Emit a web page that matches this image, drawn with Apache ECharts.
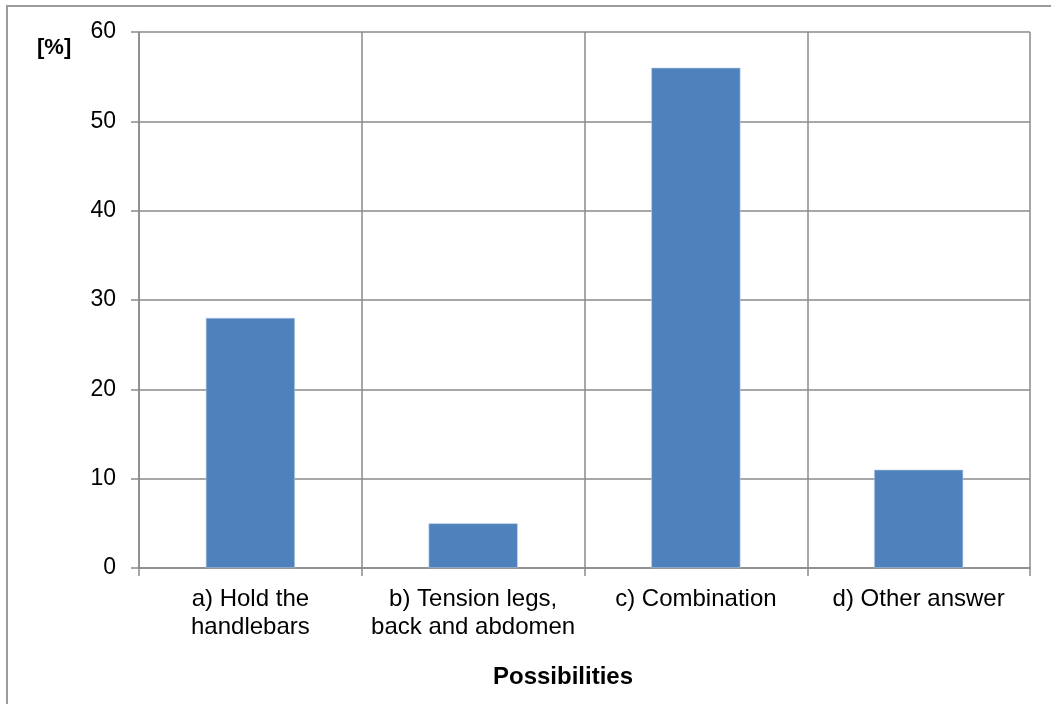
<!DOCTYPE html>
<html>
<head>
<meta charset="utf-8">
<script src="https://cdn.jsdelivr.net/npm/echarts@6/dist/echarts.min.js"></script>
<style>
  html, body { margin: 0; padding: 0; background: #fff; }
  #chart { width: 1051px; height: 704px; }
</style>
</head>
<body>
<div id="chart"></div>
<script>
// Survey answers, share of respondents in percent
const categories = [
  'a) Hold the\nhandlebars',
  'b) Tension legs,\nback and abdomen',
  'c) Combination',
  'd) Other answer'
];
const shares = [28, 5, 56, 11];
const yTicks = { min: 0, max: 60, interval: 10 };

const FONT = '"Liberation Sans", Arial, sans-serif';
const GRID_GRAY = '#8a8a8a';

const chart = echarts.init(document.getElementById('chart'), null, { renderer: 'canvas' });
chart.setOption({
  animation: false,
  backgroundColor: '#ffffff',
  textStyle: { fontFamily: FONT, color: '#000' },
  grid: { left: 139, right: 21, top: 32, bottom: 136, containLabel: false },
  graphic: [
    {
      type: 'rect',
      shape: { x: 7, y: 6, width: 1100, height: 760 },
      style: { fill: 'none', stroke: '#9b9b9b', lineWidth: 2 },
      silent: true
    },
    {
      type: 'text',
      left: 37, top: 37,
      style: { text: '[%]', font: 'bold 22px ' + FONT, fill: '#000' }
    },
    {
      type: 'text',
      left: 493, top: 665,
      style: { text: 'Possibilities', font: 'bold 24px ' + FONT, fill: '#000' }
    }
  ],
  xAxis: {
    type: 'category',
    data: categories,
    boundaryGap: true,
    axisLine: { show: true, lineStyle: { color: GRID_GRAY, width: 1.5 } },
    axisTick: { show: true, length: 8, interval: 0, lineStyle: { color: GRID_GRAY, width: 1.5 } },
    splitLine: { show: true, interval: 0, lineStyle: { color: GRID_GRAY, width: 1.5 } },
    axisLabel: {
      interval: 0, margin: 17, fontSize: 24, lineHeight: 28,
      color: '#000', fontFamily: FONT, align: 'center'
    }
  },
  yAxis: {
    type: 'value',
    min: yTicks.min, max: yTicks.max, interval: yTicks.interval,
    axisLine: { show: true, lineStyle: { color: GRID_GRAY, width: 1.5 } },
    axisTick: { show: true, length: 8, lineStyle: { color: GRID_GRAY, width: 1.5 } },
    splitLine: { show: true, lineStyle: { color: GRID_GRAY, width: 1.5 } },
    axisLabel: { margin: 23, fontSize: 23, color: '#000', fontFamily: FONT }
  },
  series: [{
    type: 'bar',
    data: shares,
    barWidth: '40%',
    itemStyle: { color: '#4F81BD', borderColor: '#B9CDE5', borderWidth: 0.6 }
  }]
});
</script>
</body>
</html>
